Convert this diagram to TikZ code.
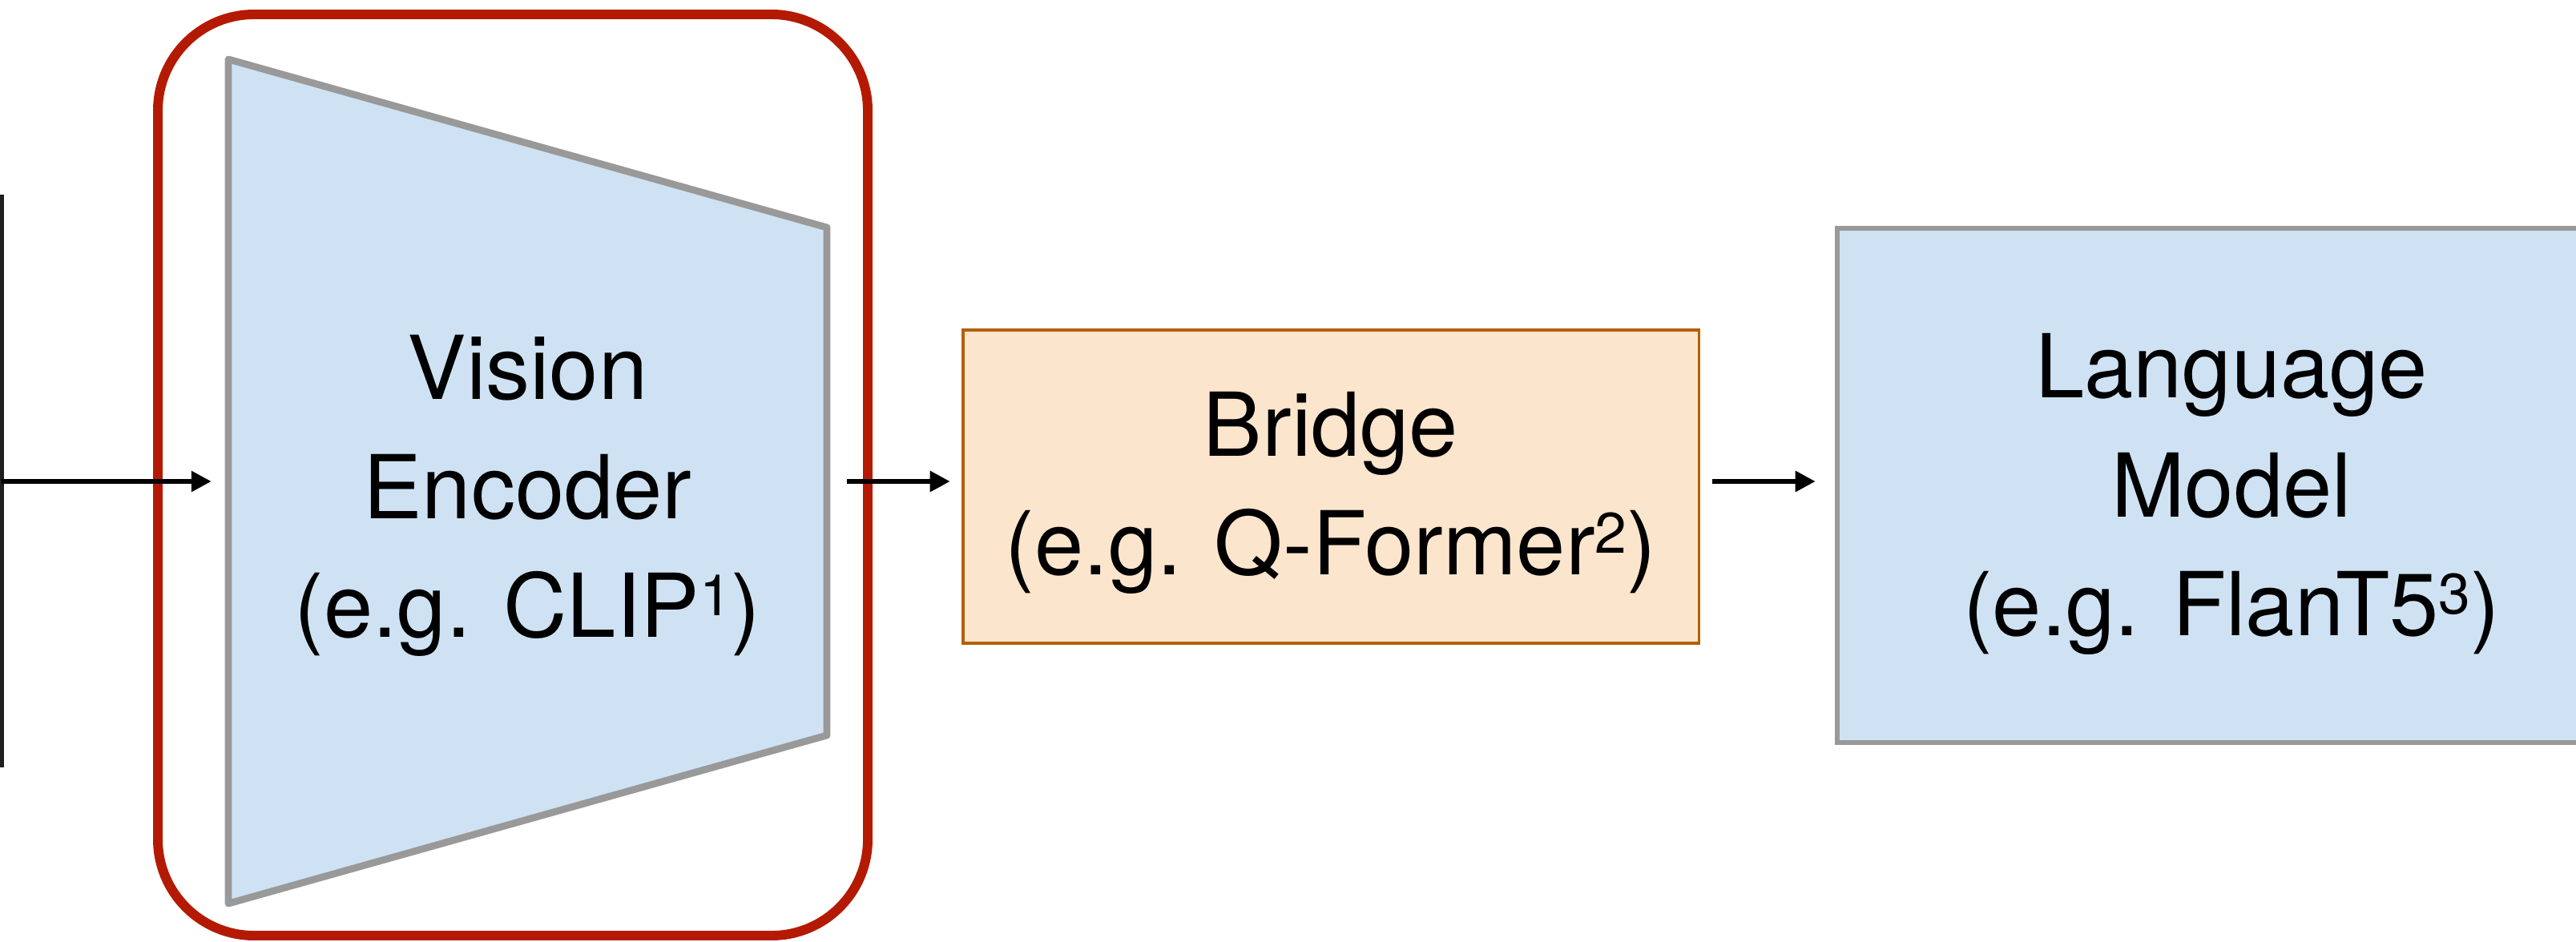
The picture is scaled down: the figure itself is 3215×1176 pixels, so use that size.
\documentclass[tikz,border=0pt]{standalone}
\usepackage{fontspec}
\setmainfont{TeX Gyre Heros}
\usetikzlibrary{arrows.meta}

\definecolor{blockfill}{HTML}{CFE2F3}
\definecolor{blockline}{HTML}{999999}
\definecolor{bridgefill}{HTML}{FCE5CD}
\definecolor{bridgeline}{HTML}{B45F06}
\definecolor{markred}{HTML}{B41A02}

% small raised footnote-style numbers
\newcommand\supnum[1]{\raisebox{7.7pt}{\fontsize{20.3}{20}\selectfont #1}}

\tikzset{
  flow/.style={line width=1.7pt, -{Triangle[length=0.25cm,width=0.25cm]}},
  blockbox/.style={draw=blockline, fill=blockfill, line width=1.8pt, inner sep=0pt, outer sep=0pt},
  bridgebox/.style={draw=bridgeline, fill=bridgefill, line width=1pt, inner sep=0pt, outer sep=0pt},
  ghost/.style={inner sep=0pt, outer sep=0pt},
  caption/.style={inner sep=0pt, outer sep=0pt, anchor=base, font=\fontsize{31.3}{42.25}\selectfont},
  marker/.style={markred, line width=3.4pt, rounded corners=1.2cm},
}

\begin{document}
\begin{tikzpicture}[x=0.01cm, y=0.01cm]
  \clip (0,0) rectangle (3215,1176);
  \fill[white] (0,0) rectangle (3215,1176);

  % edge of the input picture on the far left
  \coordinate (barTop) at (2.5,933);
  \coordinate (barBot) at (2.5,218);
  \coordinate (bar) at (2.5,575);
  \draw[line width=1.4pt, black!88] (barTop) -- (barBot);

  % vision encoder (tapered block)
  \draw[draw=blockline, fill=blockfill, line width=2.5pt, line join=round]
    (285,1102) -- (1032,892) -- (1032,258) -- (285,48) -- cycle;
  \node[ghost, minimum width=7.47cm, minimum height=10.54cm] (enc) at (658.5,575) {};
  \node[caption] (enctext) at (658.5,380)
    {\begin{tabular}[b]{@{}c@{}}Vision\\Encoder\\(e.g. CLIP\supnum{1})\end{tabular}};

  % highlight around the encoder
  \draw[marker] (197,8) rectangle (1083,1158);

  % bridge
  \node[bridgebox, minimum width=9.18cm, minimum height=3.91cm] (bridge) at (1661,568.5) {};
  \node[caption] (bridgetext) at (1661,458)
    {\begin{tabular}[b]{@{}c@{}}Bridge\\(e.g. Q-Former\supnum{2})\end{tabular}};

  % language model
  \node[blockbox, minimum width=9.84cm, minimum height=6.42cm] (lm) at (2785,570) {};
  \node[caption] (lmtext) at (2785,382)
    {\begin{tabular}[b]{@{}c@{}}Language\\Model\\(e.g. FlanT5\supnum{3})\end{tabular}};

  % connectors
  \draw[flow, shorten >=0.21cm] (bar) -- (enc.west);
  \draw[flow, shorten <=0.25cm, shorten >=0.16cm] (enc.east) -- (enc.east -| bridge.west);
  \draw[flow, shorten <=0.17cm, shorten >=0.27cm] (bridge.east |- enc.east) -- (lm.west |- enc.east);
\end{tikzpicture}
\end{document}
